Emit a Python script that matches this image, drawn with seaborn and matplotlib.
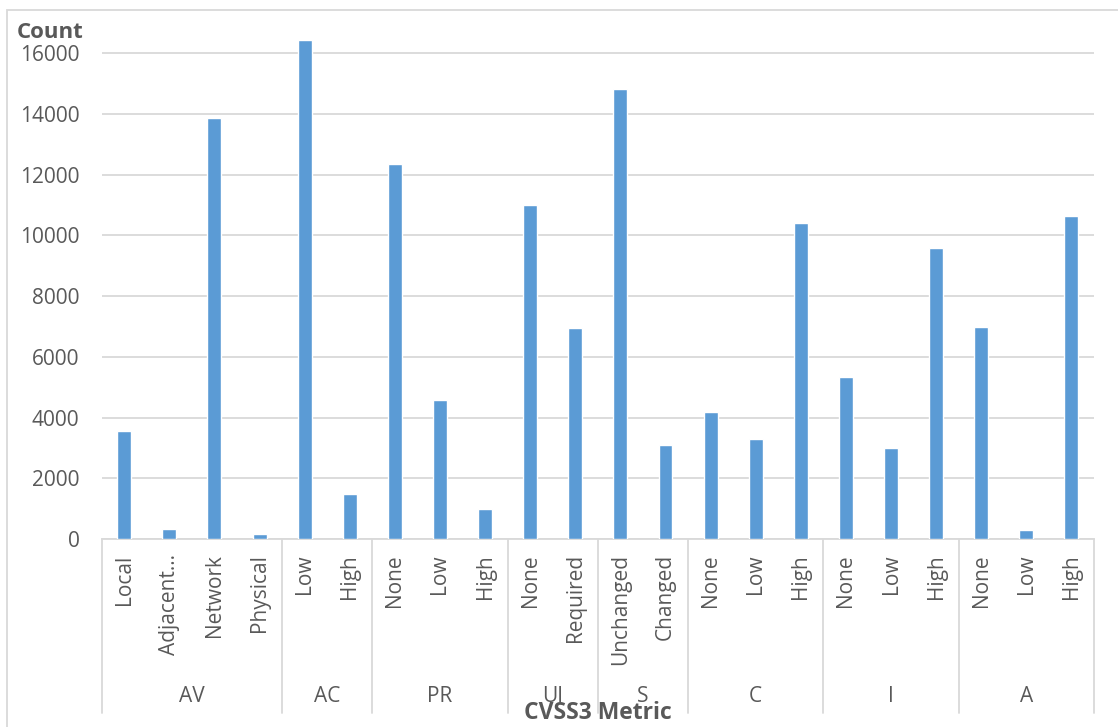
import matplotlib
matplotlib.use("Agg")
import matplotlib.pyplot as plt
from matplotlib.patches import Rectangle
from matplotlib.transforms import blended_transform_factory
import seaborn as sns
import pandas as pd

# CVSS v3 base metrics and their values
metrics = ["AV", "AV", "AV", "AV", "AC", "AC", "PR", "PR", "PR", "UI", "UI",
           "S", "S", "C", "C", "C", "I", "I", "I", "A", "A", "A"]
values = ["Local", "Adjacent…", "Network", "Physical", "Low", "High",
          "None", "Low", "High", "None", "Required", "Unchanged", "Changed",
          "None", "Low", "High", "None", "Low", "High", "None", "Low", "High"]
counts = [3570, 320, 13860, 170, 16430, 1480, 12340, 4570, 1000, 10990, 6940,
          14820, 3090, 4190, 3310, 10420, 5340, 3010, 9590, 6980, 290, 10640]
y_ticks = [0, 2000, 4000, 6000, 8000, 10000, 12000, 14000, 16000]

df = pd.DataFrame({"metric": metrics, "value": values, "count": counts})
df["key"] = df["metric"] + ":" + df["value"]

BAR = "#5B9BD5"
GRID = "#D9D9D9"
TEXT = "#595959"
FONT = "Open Sans"

sns.set_theme(style="white")
plt.rcParams["font.family"] = [FONT, "DejaVu Sans"]

W, H = 1118, 727
fig = plt.figure(figsize=(W / 100, H / 100), dpi=100)
ax_left, ax_right = 101.7 / W, 1094 / W
ax_bottom, ax_top = (H - 539) / H, (H - 29) / H
ax = fig.add_axes([ax_left, ax_bottom, ax_right - ax_left, ax_top - ax_bottom])

sns.barplot(data=df, x="key", y="count", order=list(df["key"]),
            color=BAR, saturation=1, width=0.31, ax=ax, zorder=3)

ax.set_ylim(0, 16800)
ax.set_xlim(-0.5, len(df) - 0.5)
ax.set_yticks(y_ticks)
ax.set_yticklabels([str(v) for v in y_ticks], fontsize=15, color=TEXT,
                   family=FONT)
ax.tick_params(axis="y", length=0, pad=16)
ax.yaxis.grid(True, color=GRID, linewidth=1.3, zorder=0)
ax.set_axisbelow(True)

ax.set_xticks(range(len(df)))
ax.set_xticklabels(df["value"], rotation=90, fontsize=15, color=TEXT,
                   family=FONT, va="top", ha="center")
ax.tick_params(axis="x", length=0, pad=11)
ax.set_xlabel("")
ax.set_ylabel("")

for side in ["top", "left", "right"]:
    ax.spines[side].set_visible(False)
ax.spines["bottom"].set_color(GRID)
ax.spines["bottom"].set_linewidth(1.3)

# Second category level: metric groups with divider lines
trans = blended_transform_factory(ax.transData, ax.transAxes)
axes_h_px = 539 - 29
div_bottom = -(713 - 539) / axes_h_px
label_y = -(697 - 539) / axes_h_px
groups = []
for i, m in enumerate(df["metric"]):
    if not groups or groups[-1][0] != m:
        groups.append([m, i, i])
    else:
        groups[-1][2] = i
edges = [g[1] - 0.5 for g in groups] + [groups[-1][2] + 0.5]
for e in edges:
    ax.plot([e, e], [0, div_bottom], transform=trans, color=GRID,
            linewidth=1.3, clip_on=False)
for name, start, end in groups:
    ax.text((start + end) / 2, label_y, name, transform=trans, ha="center",
            va="center", fontsize=15, color=TEXT, family=FONT)

fig.text((ax_left + ax_right) / 2, (H - 713) / H, "CVSS3 Metric",
         ha="center", va="center", fontsize=16.5, fontweight="bold",
         color=TEXT, family=FONT)
fig.text(17 / W, (H - 32) / H, "Count", ha="left", va="center",
         fontsize=16, fontweight="bold", color=TEXT, family=FONT)

# Chart area border
fig.patches.append(Rectangle((7 / W, -0.05), 1.2, (H - 10) / H + 0.05,
                             transform=fig.transFigure, fill=False,
                             edgecolor=GRID, linewidth=1.3))

fig.savefig("out.png", dpi=100)
